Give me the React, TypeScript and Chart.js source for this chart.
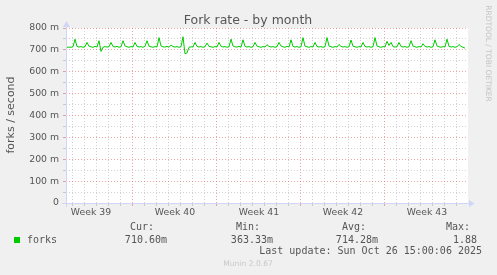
import React, { useEffect, useRef } from "react";
import { Chart, registerables } from "chart.js";

Chart.register(...registerables);

const chartTitle = "Fork rate - by month";
const yAxisTitle = "forks / second";
const sideText = "RRDTOOL / TOBI OETIKER";
const footerText = "Munin 2.0.67";
const seriesName = "forks";
const statHeaders = ["Cur:", "Min:", "Avg:", "Max:"];
const statValues = ["710.60m", "363.33m", "714.28m", "1.88"];
const lastUpdate = "Last update: Sun Oct 26 15:00:06 2025";
const weekLabels = ["Week 39", "Week 40", "Week 41", "Week 42", "Week 43"];
const yTickValues = [0, 100, 200, 300, 400, 500, 600, 700, 800];
const yTickLabels = ["0", "100 m", "200 m", "300 m", "400 m", "500 m", "600 m", "700 m", "800 m"];

// x axis in days since the start of Week 39 (Mon 00:00)
const xMinDay = 1.417;
const xMaxDay = 34.917;
const sampleStartDay = 1.5;
const sampleStepDays = 1 / 6;

// fork rate in milli-forks/second, one sample every 4 hours
const forkValues = [
  711, 713, 712, 714, 749, 716,
  713, 715, 712, 714, 734, 717,
  714, 712, 716, 713, 742, 693,
  712, 715, 713, 714, 734, 716,
  713, 716, 712, 714, 742, 718,
  714, 712, 715, 713, 734, 716,
  713, 715, 712, 716, 742, 717,
  714, 712, 715, 713, 756, 718,
  714, 713, 716, 712, 722, 715,
  713, 715, 712, 714, 760, 682,
  686, 712, 714, 713, 734, 716,
  713, 715, 712, 714, 731, 716,
  714, 712, 715, 713, 734, 717,
  713, 715, 712, 714, 749, 718,
  714, 713, 716, 712, 746, 716,
  713, 715, 712, 714, 734, 717,
  714, 712, 715, 713, 724, 716,
  713, 715, 712, 714, 734, 718,
  714, 712, 716, 713, 746, 716,
  713, 715, 712, 714, 756, 717,
  714, 712, 715, 713, 734, 716,
  713, 715, 712, 714, 756, 718,
  714, 712, 715, 713, 725, 716,
  713, 715, 712, 714, 745, 717,
  714, 712, 715, 713, 734, 716,
  713, 715, 712, 714, 756, 718,
  714, 712, 715, 713, 739, 720,
  734, 715, 713, 714, 734, 716,
  713, 715, 712, 714, 742, 717,
  714, 712, 715, 713, 728, 716,
  713, 715, 712, 714, 746, 718,
  714, 712, 715, 713, 749, 716,
  713, 715, 712, 714, 725, 716,
  712, 708,
];

const SANS = "'DejaVu Sans', sans-serif";
const MONO = "'DejaVu Sans Mono', monospace";
const FONT_COLOR = "#555555";
const GRID = "rgba(143,143,143,0.4)";
const MGRID = "rgba(222,79,79,0.5)";
const AXIS = "#CFD6F8";
const LINE = "#00CC00";

const xTickValues: number[] = [];
for (let d = Math.ceil(xMinDay); d <= Math.floor(xMaxDay); d++) xTickValues.push(d);
weekLabels.forEach((_, k) => xTickValues.push(3.5 + 7 * k));
xTickValues.sort((a, b) => a - b);

const muninPlugin = {
  id: "munin",
  beforeDraw(chart: any) {
    const { ctx, chartArea: a } = chart;
    ctx.save();
    ctx.fillStyle = "#F0F0F0";
    ctx.fillRect(0, 0, chart.width, chart.height);
    ctx.fillStyle = "#FFFFFF";
    ctx.fillRect(a.left, a.top, a.right - a.left, a.bottom - a.top);
    ctx.restore();
  },
  beforeDatasetsDraw(chart: any) {
    const { ctx, chartArea: a } = chart;
    ctx.save();
    ctx.strokeStyle = AXIS;
    ctx.fillStyle = AXIS;
    ctx.lineWidth = 1;
    const yb = Math.floor(a.bottom) + 0.5;
    const xl = Math.floor(a.left) + 0.5;
    ctx.beginPath();
    ctx.moveTo(a.left - 4, yb);
    ctx.lineTo(a.right + 1, yb);
    ctx.moveTo(xl, a.bottom + 4);
    ctx.lineTo(xl, a.top - 1);
    ctx.stroke();
    // arrows
    ctx.beginPath();
    ctx.moveTo(a.right + 1, yb - 3.5);
    ctx.lineTo(a.right + 6.5, yb);
    ctx.lineTo(a.right + 1, yb + 3.5);
    ctx.closePath();
    ctx.fill();
    ctx.beginPath();
    ctx.moveTo(xl - 3.5, a.top - 1);
    ctx.lineTo(xl, a.top - 7);
    ctx.lineTo(xl + 3.5, a.top - 1);
    ctx.closePath();
    ctx.fill();
    ctx.restore();
  },
  afterDraw(chart: any) {
    const { ctx } = chart;
    ctx.save();
    // title
    ctx.fillStyle = FONT_COLOR;
    ctx.font = `12.5px ${SANS}`;
    ctx.textAlign = "center";
    ctx.textBaseline = "alphabetic";
    ctx.fillText(chartTitle, 248, 24);
    // y axis title
    ctx.save();
    ctx.translate(14, 115);
    ctx.rotate(-Math.PI / 2);
    ctx.font = `11px ${SANS}`;
    ctx.textAlign = "center";
    ctx.textBaseline = "alphabetic";
    ctx.fillText(yAxisTitle, 0, 0);
    ctx.restore();
    // side text
    ctx.save();
    ctx.translate(486, 53.5);
    ctx.rotate(Math.PI / 2);
    ctx.font = `7.5px ${SANS}`;
    ctx.fillStyle = "#C4C4C4";
    ctx.textAlign = "center";
    ctx.textBaseline = "alphabetic";
    ctx.fillText(sideText, 0, 0);
    ctx.restore();
    // legend
    ctx.fillStyle = LINE;
    ctx.fillRect(14, 237, 6, 6);
    ctx.fillStyle = FONT_COLOR;
    ctx.font = `10px ${MONO}`;
    ctx.textBaseline = "middle";
    ctx.textAlign = "left";
    ctx.fillText(seriesName, 27, 240);
    const headerRight = [154, 260, 366, 470];
    const valueRight = [167, 273, 378, 477];
    ctx.textAlign = "right";
    statHeaders.forEach((h, i) => ctx.fillText(h, headerRight[i], 227.7));
    statValues.forEach((v, i) => ctx.fillText(v, valueRight[i], 240));
    ctx.fillText(lastUpdate, 482, 251.7);
    // footer
    ctx.textAlign = "center";
    ctx.fillStyle = "#C8C8C8";
    ctx.font = `7.6px ${SANS}`;
    ctx.fillText(footerText, 248, 264);
    ctx.restore();
  },
};

export default function App() {
  const ref = useRef<HTMLCanvasElement>(null);
  useEffect(() => {
    document.body.style.margin = "0";
    const canvas = ref.current!;
    const chart = new Chart(canvas, {
      type: "line",
      data: {
        datasets: [
          {
            label: seriesName,
            data: forkValues.map((v, i) => ({ x: sampleStartDay + i * sampleStepDays, y: v })),
            borderColor: LINE,
            borderWidth: 1,
            pointRadius: 0,
            fill: false,
            tension: 0,
          },
        ],
      },
      options: {
        animation: false,
        responsive: false,
        maintainAspectRatio: false,
        layout: { padding: { left: 0, top: 28, right: 29, bottom: 0 } },
        plugins: {
          legend: { display: false },
          tooltip: { enabled: false },
          title: { display: false },
        },
        scales: {
          x: {
            type: "linear",
            min: xMinDay,
            max: xMaxDay,
            afterBuildTicks: (axis: any) => {
              axis.ticks = xTickValues.map((v) => ({ value: v }));
            },
            afterFit: (s: any) => {
              s.height = 72;
            },
            ticks: {
              autoSkip: false,
              maxRotation: 0,
              minRotation: 0,
              padding: 1,
              color: FONT_COLOR,
              font: { family: SANS, size: 9.3 },
              callback: (value: any) => {
                const v = Number(value);
                const k = (v - 3.5) / 7;
                return Number.isInteger(k) ? weekLabels[k] ?? "" : "";
              },
            },
            grid: {
              lineWidth: 1,
              tickLength: 3,
              color: (ctx: any) => {
                const v = ctx.tick?.value;
                if (v == null || v % 1 !== 0) return "rgba(0,0,0,0)";
                return v % 7 === 0 ? MGRID : GRID;
              },
              tickColor: (ctx: any) => {
                const v = ctx.tick?.value;
                if (v == null || v % 1 !== 0) return "rgba(0,0,0,0)";
                return v % 7 === 0 ? MGRID : GRID;
              },
            },
            border: { display: false, dash: [1, 2] },
          },
          y: {
            type: "linear",
            min: 0,
            max: 800,
            afterFit: (s: any) => {
              s.width = 66;
            },
            ticks: {
              stepSize: 50,
              autoSkip: false,
              padding: 4,
              color: FONT_COLOR,
              font: { family: SANS, size: 9.3 },
              callback: (value: any) => {
                const idx = yTickValues.indexOf(Number(value));
                return idx >= 0 ? yTickLabels[idx] : "";
              },
            },
            grid: {
              lineWidth: 1,
              tickLength: 3,
              color: (ctx: any) => (ctx.tick?.value % 100 === 0 ? MGRID : GRID),
              tickColor: (ctx: any) => (ctx.tick?.value % 100 === 0 ? MGRID : GRID),
            },
            border: { display: false, dash: [1, 2] },
          },
        },
      },
      plugins: [muninPlugin],
    });
    return () => chart.destroy();
  }, []);
  return (
    <div style={{ width: 497, height: 275 }}>
      <canvas ref={ref} width={497} height={275} style={{ display: "block" }} />
    </div>
  );
}
